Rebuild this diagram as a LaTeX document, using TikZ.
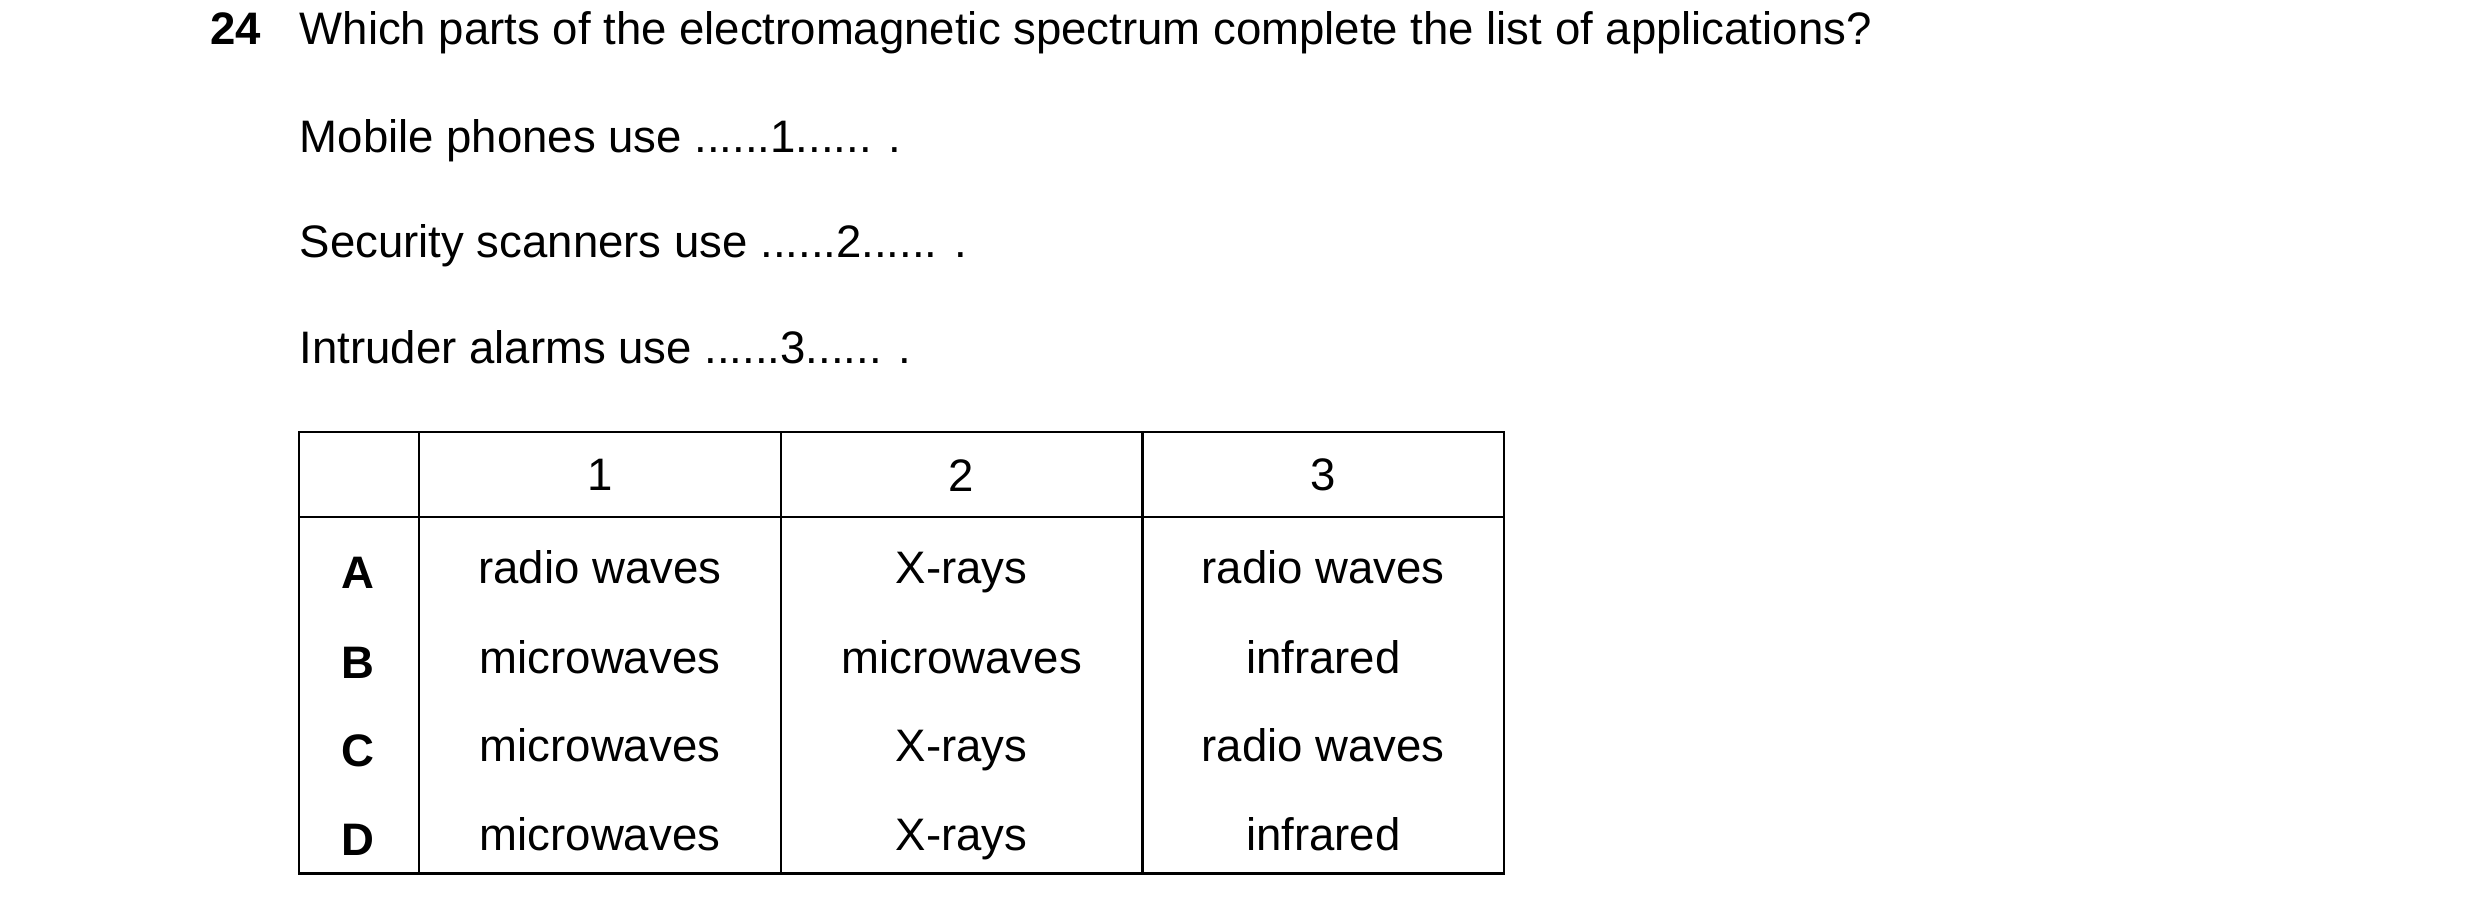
\documentclass[tikz,border=0pt]{standalone}
\usepackage{fontspec}
\setmainfont{Liberation Sans}
\begin{document}
\fontsize{16.2pt}{19pt}\selectfont
\begin{tikzpicture}[x=0.02cm,y=-0.02cm,
    txt/.style={anchor=base west, inner sep=0pt},
    cell/.style={anchor=center, inner sep=0pt}]
    \useasboundingbox (0,0) rectangle (1550,565);

    % Question text
    \node[txt] (num) at (131,28) {\textbf{24}};
    \node[txt] (q) at (187,28) {Which parts of the electromagnetic spectrum complete the list of applications?};
    \node[txt] (l1) at (187,95) {Mobile phones use ......1...... .};
    \node[txt] (l2) at (187,161) {Security scanners use ......2...... .};
    \node[txt] (l3) at (187,227) {Intruder alarms use ......3...... .};

    % Table grid
    \draw[line width=0.8pt] (187,270) rectangle (940,546);
    \draw[line width=0.8pt] (187,323) -- (940,323);
    \foreach \x in {262,488,714}
        \draw[line width=0.8pt] (\x,270) -- (\x,546);

    % Header
    \node[cell] (h1) at (375,297) {1};
    \node[cell] (h2) at (601,297) {2};
    \node[cell] (h3) at (827,297) {3};

    % Rows
    \foreach \r/\y/\a/\b/\c in {A/358/radio waves/X-rays/radio waves,
                                B/414/microwaves/microwaves/infrared,
                                C/469/microwaves/X-rays/radio waves,
                                D/525/microwaves/X-rays/infrared} {
        \node[cell] (r\r) at (224,\y) {\textbf{\r}};
        \node[cell] (r\r1) at (375,\y) {\strut\a};
        \node[cell] (r\r2) at (601,\y) {\strut\b};
        \node[cell] (r\r3) at (827,\y) {\strut\c};
    }
\end{tikzpicture}
\end{document}
